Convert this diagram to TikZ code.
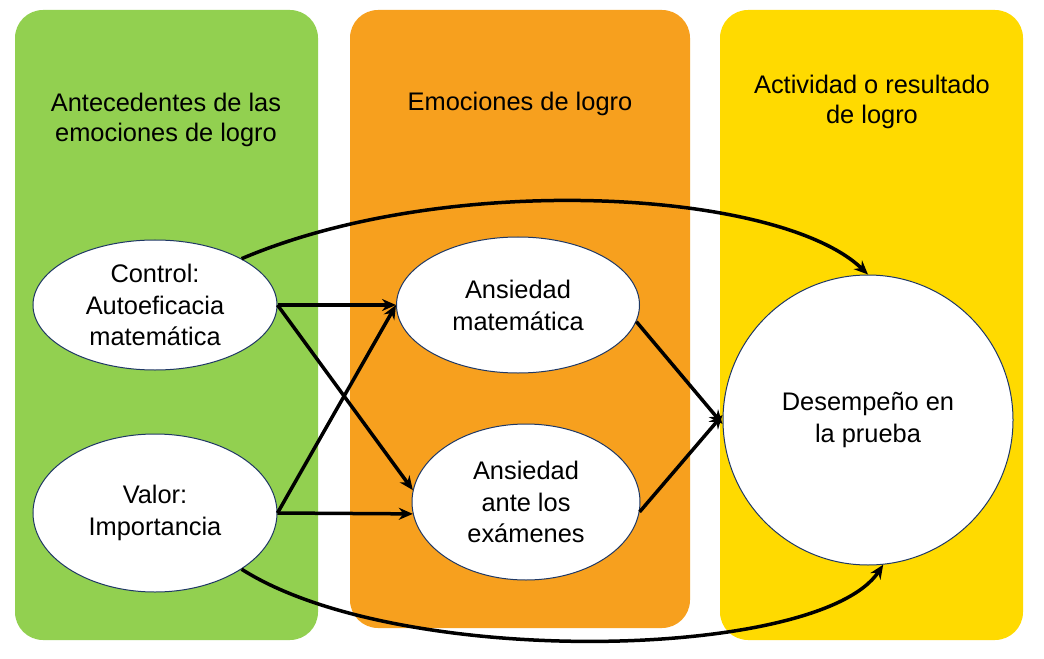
\documentclass[tikz,border=0pt]{standalone}
\usepackage{fontspec}
\setmainfont{Liberation Sans}
\usetikzlibrary{shapes.geometric,arrows.meta}
\definecolor{pgreen}{HTML}{92D050}
\definecolor{porange}{HTML}{F7A01E}
\definecolor{pyellow}{HTML}{FFDA00}
\definecolor{eline}{HTML}{1F3864}
\begin{document}
\begin{tikzpicture}[x=1bp,y=-1bp,
  panel/.style={rounded corners=28bp,draw=none},
  ell/.style={ellipse,draw=eline,line width=1bp,fill=white,align=center,inner sep=0pt,font=\fontsize{25.5}{32}\selectfont},
  title/.style={align=center,font=\fontsize{25.5}{30}\selectfont},
  arr/.style={line width=3.5bp,-{Stealth[length=14bp,width=12bp]}}]
\useasboundingbox (0,0) rectangle (1044,659);
\fill[white] (0,0) rectangle (1044,659);
\fill[panel,pgreen] (15,10) rectangle (318,640);
\fill[panel,porange] (350,10) rectangle (690,628);
\fill[panel,pyellow] (720,10) rectangle (1023,640);
\node[title] (t1) at (166,120) {Antecedentes de las\\emociones de logro};
\node[title] (t2) at (520,104) {Emociones de logro};
\node[title] (t3) at (872,102) {Actividad o resultado\\de logro};
\node[ell,minimum width=244bp,minimum height=130bp] (c) at (155,305) {Control:\\Autoeficacia\\matemática};
\node[ell,minimum width=244bp,minimum height=158bp] (v) at (155,513) {Valor:\\Importancia};
\node[ell,minimum width=243bp,minimum height=136bp] (am) at (518,305) {Ansiedad\\matemática};
\node[ell,minimum width=228bp,minimum height=156bp] (ae) at (526,502) {Ansiedad\\ante los\\exámenes};
\node[ell,minimum width=290bp,minimum height=290bp] (d) at (868,420) {Desempeño en\\la prueba};
\draw[arr] (c.east) -- (am.west);
\draw[arr] (c.east) -- (ae.174);
\draw[arr] (v.east) -- (ae.186);
\draw[arr] (v.east) -- (am.west);
\draw[arr] (am.-8) -- ([yshift=-4bp]d.west);
\draw[arr] (ae.-5) -- ([yshift=5bp]d.west);
\draw[arr] (c.north east) .. controls (450,170) and (780,190) .. (d.north);
\draw[arr] (v.south east) .. controls (400,670) and (820,660) .. (d.-84);
\end{tikzpicture}
\end{document}
